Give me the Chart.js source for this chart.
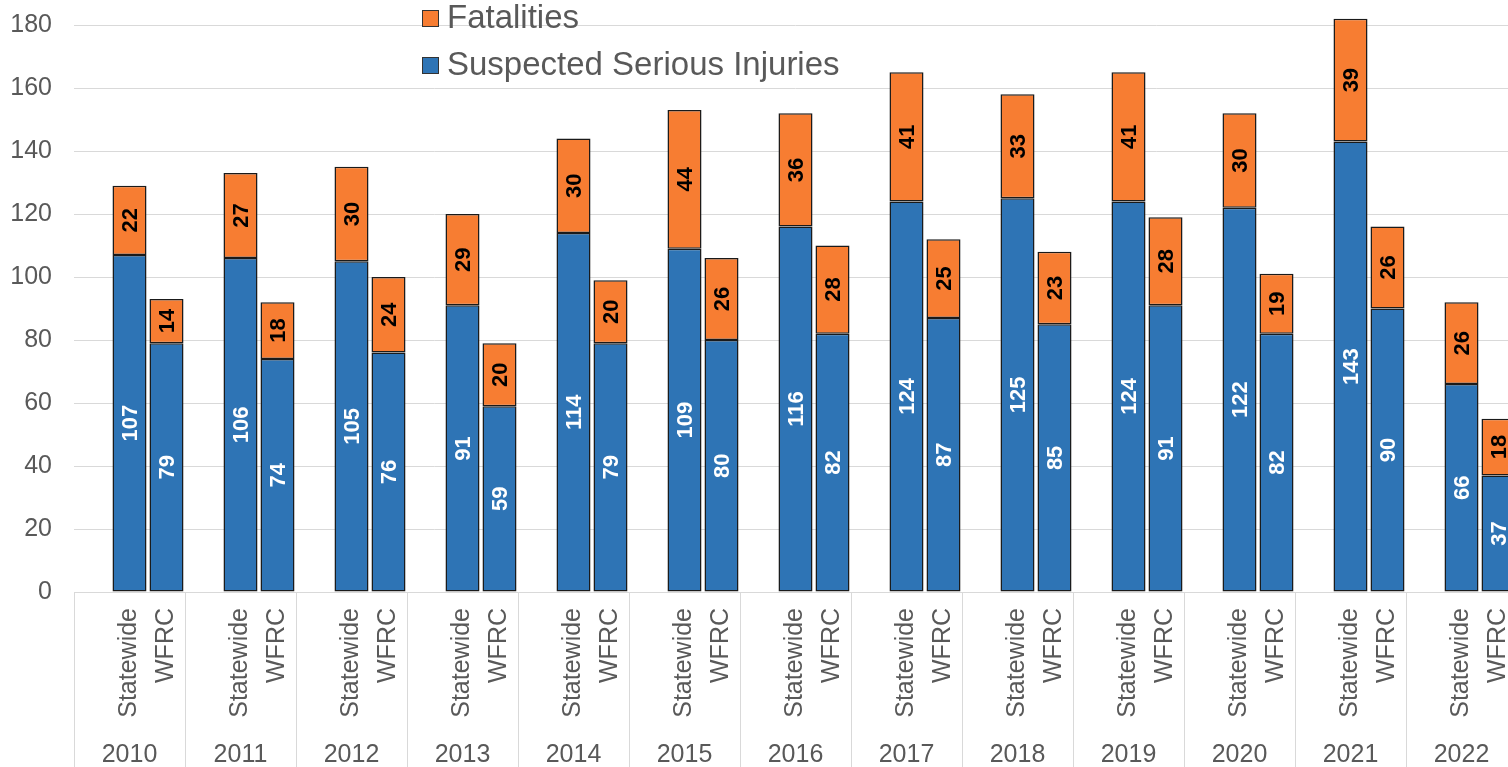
<!DOCTYPE html>
<html>
<head>
<meta charset="utf-8">
<script src="https://cdn.jsdelivr.net/npm/chart.js@4"></script>
<style>
  html, body { margin: 0; padding: 0; background: #fff; overflow: hidden; }
  #wrap { width: 1517px; height: 767px; position: relative; }
</style>
</head>
<body>
<div id="wrap"><canvas id="grafico"></canvas></div>
<script>
// --- DATOS ---
const anios = ['2010', '2011', '2012', '2013', '2014', '2015', '2016', '2017', '2018', '2019', '2020', '2021', '2022'];
const subEtiquetas = ['', 'Statewide', 'WFRC'];

const lesionesStatewide = [107, 106, 105, 91, 114, 109, 116, 124, 125, 124, 122, 143, 66];
const muertesStatewide  = [22, 27, 30, 29, 30, 44, 36, 41, 33, 41, 30, 39, 26];
const lesionesWFRC      = [79, 74, 76, 59, 79, 80, 82, 87, 85, 91, 82, 90, 37];
const muertesWFRC       = [14, 18, 24, 20, 20, 26, 28, 25, 23, 28, 19, 26, 18];

const yTicks = { min: 0, max: 180, paso: 20 };

const AZUL = '#2E74B5';
const NARANJA = '#F77D32';
const GRIS = '#595959';
const LINEA = '#d9d9d9';
const FUENTE = '"Liberation Sans", Arial, sans-serif';

// cada año tiene 3 categorias: hueco, Statewide, WFRC
const etiquetas = [];
const serieLesiones = [];
const serieMuertes = [];
anios.forEach((a, i) => {
    subEtiquetas.forEach(s => etiquetas.push(a + '|' + s));
    serieLesiones.push(null, lesionesStatewide[i], lesionesWFRC[i]);
    serieMuertes.push(null, muertesStatewide[i], muertesWFRC[i]);
});

// etiquetas dentro de las barras (rotadas)
const pluginValores = {
    id: 'valores',
    afterDatasetsDraw(chart) {
        const ctx = chart.ctx;
        ctx.save();
        ctx.font = 'bold 22px ' + FUENTE;
        ctx.textAlign = 'center';
        ctx.textBaseline = 'middle';
        chart.data.datasets.forEach((ds, di) => {
            const meta = chart.getDatasetMeta(di);
            meta.data.forEach((bar, i) => {
                const v = ds.data[i];
                if (v == null) return;
                const cy = (bar.y + bar.base) / 2;
                ctx.save();
                ctx.translate(bar.x, cy);
                ctx.rotate(-Math.PI / 2);
                ctx.fillStyle = ds.colorTexto;
                ctx.fillText(String(v), 0, 1);
                ctx.restore();
            });
        });
        ctx.restore();
    }
};

// eje X de dos niveles + separadores
const pluginEjeX = {
    id: 'ejeX',
    afterDraw(chart) {
        const ctx = chart.ctx;
        const x = chart.scales.x;
        const area = chart.chartArea;
        const mitad = (x.getPixelForValue(1) - x.getPixelForValue(0)) / 2;
        ctx.save();
        ctx.strokeStyle = LINEA;
        ctx.lineWidth = 1;
        for (let g = 0; g <= anios.length; g++) {
            const px = Math.round(x.getPixelForValue(g * 3) - mitad) + 0.5;
            ctx.beginPath();
            ctx.moveTo(px, area.bottom);
            ctx.lineTo(px, chart.height);
            ctx.stroke();
        }
        ctx.fillStyle = GRIS;
        ctx.font = '25px ' + FUENTE;
        etiquetas.forEach((et, i) => {
            const txt = et.split('|')[1];
            if (!txt) return;
            ctx.save();
            ctx.translate(x.getPixelForValue(i), area.bottom + 16);
            ctx.rotate(-Math.PI / 2);
            ctx.textAlign = 'right';
            ctx.textBaseline = 'middle';
            ctx.fillText(txt, 0, 0);
            ctx.restore();
        });
        ctx.textAlign = 'center';
        ctx.textBaseline = 'middle';
        anios.forEach((a, g) => {
            ctx.fillText(a, x.getPixelForValue(g * 3 + 1), 755);
        });
        ctx.restore();
    }
};

// leyenda vertical sobre el area del grafico
const pluginLeyenda = {
    id: 'leyendaPropia',
    afterDraw(chart) {
        const ctx = chart.ctx;
        const items = [chart.data.datasets[1], chart.data.datasets[0]];
        ctx.save();
        ctx.font = '33px ' + FUENTE;
        ctx.textBaseline = 'middle';
        items.forEach((ds, i) => {
            const cy = 18 + i * 47;
            ctx.fillStyle = ds.backgroundColor;
            ctx.fillRect(422, cy - 8, 17, 17);
            ctx.strokeStyle = '#333';
            ctx.lineWidth = 1;
            ctx.strokeRect(422.5, cy - 7.5, 16, 16);
            ctx.fillStyle = GRIS;
            ctx.fillText(ds.label, 447, cy + 1);
        });
        ctx.restore();
    }
};

new Chart(document.getElementById('grafico'), {
    type: 'bar',
    data: {
        labels: etiquetas,
        datasets: [
            {
                label: 'Suspected Serious Injuries',
                data: serieLesiones,
                backgroundColor: AZUL,
                borderColor: '#1a1a1a',
                borderWidth: 1.5,
                borderSkipped: false,
                colorTexto: '#ffffff',
                clip: false
            },
            {
                label: 'Fatalities',
                data: serieMuertes,
                backgroundColor: NARANJA,
                borderColor: '#1a1a1a',
                borderWidth: 1.5,
                borderSkipped: false,
                colorTexto: '#000000',
                clip: false
            }
        ]
    },
    options: {
        responsive: true,
        maintainAspectRatio: false,
        animation: false,
        layout: { padding: { top: 25, left: 0, right: 0, bottom: 0 } },
        categoryPercentage: 1,
        barPercentage: 0.92,
        plugins: {
            legend: { display: false },
            tooltip: { enabled: false }
        },
        scales: {
            x: {
                stacked: true,
                grid: { display: false },
                border: { display: true, color: LINEA },
                ticks: { display: false },
                afterFit(scale) { scale.height = 175; }
            },
            y: {
                stacked: true,
                min: yTicks.min,
                max: yTicks.max,
                grid: { color: LINEA, drawTicks: true, tickLength: 22, tickColor: 'rgba(0,0,0,0)' },
                border: { display: false },
                ticks: {
                    stepSize: yTicks.paso,
                    padding: 0,
                    color: GRIS,
                    font: { size: 25, family: FUENTE }
                },
                afterFit(scale) { scale.width = 74; }
            }
        }
    },
    plugins: [pluginValores, pluginEjeX, pluginLeyenda]
});
</script>
</body>
</html>
